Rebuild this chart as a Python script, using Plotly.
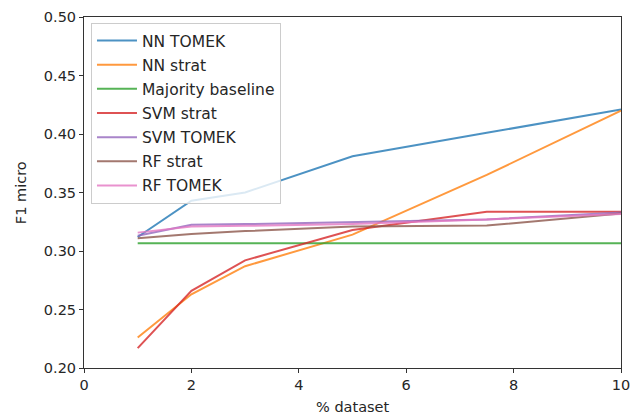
import plotly.graph_objects as go

pct = [1, 2, 3, 5, 7.5, 10]
nn_tomek = [0.312, 0.343, 0.350, 0.381, 0.401, 0.421]
nn_strat = [0.226, 0.263, 0.287, 0.314, 0.365, 0.420]
majority = [0.3066, 0.3066, 0.3066, 0.3066, 0.3066, 0.3066]
svm_strat = [0.217, 0.266, 0.292, 0.318, 0.3336, 0.3336]
svm_tomek = [0.313, 0.3225, 0.323, 0.325, 0.327, 0.3328]
rf_strat = [0.311, 0.3145, 0.317, 0.321, 0.3217, 0.332]
rf_tomek = [0.3157, 0.321, 0.3215, 0.323, 0.327, 0.3316]

series = [
    ("NN TOMEK", nn_tomek, "rgba(31,119,180,0.8)"),
    ("NN strat", nn_strat, "rgba(255,127,14,0.8)"),
    ("Majority baseline", majority, "rgba(44,160,44,0.8)"),
    ("SVM strat", svm_strat, "rgba(214,39,40,0.8)"),
    ("SVM TOMEK", svm_tomek, "rgba(148,103,189,0.8)"),
    ("RF strat", rf_strat, "rgba(140,86,75,0.8)"),
    ("RF TOMEK", rf_tomek, "rgba(227,119,194,0.8)"),
]

fig = go.Figure()
for name, vals, col in series:
    fig.add_trace(go.Scatter(x=pct, y=vals, mode="lines", name=name,
                             legendgroup=name,
                             line=dict(color=col, width=2)))

txt = "#262626"
fig.update_layout(
    width=632, height=414,
    margin=dict(l=84, r=11, t=17, b=46, autoexpand=False),
    paper_bgcolor="white", plot_bgcolor="white",
    font=dict(family="DejaVu Sans", size=14, color=txt),
    showlegend=True,
    legend=dict(x=0.013, y=0.983, xanchor="left", yanchor="top",
                bgcolor="rgba(255,255,255,0.8)", bordercolor="#cccccc",
                borderwidth=1, font=dict(family="DejaVu Sans", size=15.5, color=txt),
                tracegroupgap=1, itemwidth=40),
    xaxis=dict(range=[0, 10], tickvals=[0, 2, 4, 6, 8, 10], ticks="outside",
               ticklen=4, tickcolor="#333", showline=True, mirror=True,
               linecolor="#333", linewidth=1, showgrid=False, zeroline=False,
               automargin=False, tickfont=dict(size=14.5)),
    yaxis=dict(range=[0.2, 0.5], tickvals=[0.2, 0.25, 0.3, 0.35, 0.4, 0.45, 0.5],
               tickformat=".2f", ticks="outside", ticklen=4, tickcolor="#333",
               showline=True, mirror=True, linecolor="#333", linewidth=1,
               showgrid=False, zeroline=False, automargin=False,
               tickfont=dict(size=14.5)),
    annotations=[
        dict(text="% dataset", xref="paper", yref="paper", x=0.5, y=-0.11,
             xanchor="center", yanchor="middle", showarrow=False,
             font=dict(size=14.5, color=txt)),
        dict(text="F1 micro", xref="paper", yref="paper", x=-0.118, y=0.5,
             xanchor="center", yanchor="middle", textangle=-90, showarrow=False,
             font=dict(size=14.5, color=txt)),
    ],
)
fig.write_html("out.html")
